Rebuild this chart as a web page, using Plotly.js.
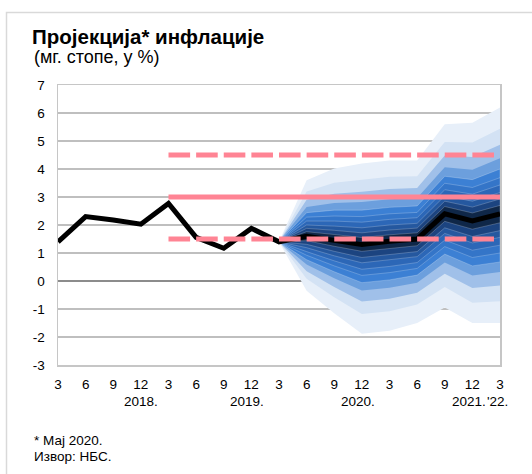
<!DOCTYPE html>
<html>
<head>
<meta charset="utf-8">
<script src="https://cdn.plot.ly/plotly-3.0.1.min.js"></script>
<style>
html,body{margin:0;padding:0;background:#fff;}
#chart{width:532px;height:474px;}
</style>
</head>
<body>
<div id="chart"></div>
<script>
// ---- data ----
var monthLabels = ['3','6','9','12','3','6','9','12','3','6','9','12','3','6','9','12','3'];
var yearLabels = ['2018.','2019.','2020.','2021.',"'22."];
var yearPos = [3.0, 6.85, 10.85, 15.57, 15.45];
var yTickVals = [-3,-2,-1,0,1,2,3,4,5,6,7];
var yTickText = ['-3','-2','-1','0','1','2','3','4','5','6','7'];

// inflation, y-o-y %, quarterly, 3/2018 .. 3/2022 (history + central projection)
var inflation = [1.4, 2.3, 2.18, 2.03, 2.77, 1.56, 1.17, 1.88, 1.4, 1.6, 1.45, 1.3, 1.42, 1.5, 2.4, 2.15, 2.4];

// fan chart, from 3/2020 (index 8) to 3/2022 (index 16); outer -> inner bounds
var fanX = [8, 9, 10, 11, 12, 13, 14, 15, 16];
var hi1  = [1.4, 3.6, 4.02, 4.2, 4.3, 4.3, 5.6, 5.65, 6.2];
var hi2  = [1.4, 3.2, 3.51, 3.62, 3.72, 3.74, 4.96, 4.95, 5.44];
var hi3  = [1.4, 2.9, 3.12, 3.19, 3.29, 3.32, 4.48, 4.43, 4.87];
var hi4  = [1.4, 2.64, 2.79, 2.82, 2.92, 2.96, 4.06, 3.97, 4.38];
var hi5  = [1.4, 2.44, 2.53, 2.53, 2.63, 2.68, 3.74, 3.62, 4.0];
var hi6  = [1.4, 2.28, 2.32, 2.30, 2.40, 2.45, 3.49, 3.34, 3.69];
var hi7  = [1.4, 2.14, 2.14, 2.10, 2.20, 2.26, 3.26, 3.10, 3.43];
var hi8  = [1.4, 2.0, 1.96, 1.90, 2.00, 2.06, 3.04, 2.85, 3.16];
var hi9  = [1.4, 1.88, 1.81, 1.72, 1.82, 1.89, 2.85, 2.64, 2.93];
var hi10 = [1.4, 1.76, 1.66, 1.55, 1.65, 1.72, 2.66, 2.43, 2.70];
var lo10 = [1.4, 1.44, 1.24, 1.06, 1.16, 1.26, 2.13, 1.85, 2.08];
var lo9  = [1.4, 1.31, 1.06, 0.84, 0.94, 1.05, 1.90, 1.59, 1.80];
var lo8  = [1.4, 1.19, 0.90, 0.65, 0.75, 0.87, 1.70, 1.36, 1.56];
var lo7  = [1.4, 1.05, 0.72, 0.42, 0.52, 0.66, 1.46, 1.10, 1.28];
var lo6  = [1.4, 0.92, 0.54, 0.20, 0.30, 0.45, 1.23, 0.84, 1.0];
var lo5  = [1.4, 0.76, 0.33, -0.06, 0.04, 0.21, 0.96, 0.54, 0.68];
var lo4  = [1.4, 0.59, 0.10, -0.34, -0.24, -0.06, 0.66, 0.20, 0.32];
var lo3  = [1.4, 0.35, -0.21, -0.73, -0.63, -0.42, 0.26, -0.25, -0.16];
var lo2  = [1.4, 0.08, -0.58, -1.18, -1.08, -0.84, -0.21, -0.78, -0.72];
var lo1  = [1.4, -0.35, -1.15, -1.88, -1.78, -1.5, -0.95, -1.5, -1.5];

// target band (3% ± 1.5 pp) from 3/2019
var targetX = [4, 16];
var target = [3, 3];
var targetHigh = [4.5, 4.5];
var targetLow = [1.5, 1.5];

var bandColors = ['#e7eff9','#d3e2f4','#a0c0e9','#6c9fdd','#3c80d4','#3475c8','#2c67b7','#25589f','#1c4480','#0f2748'];

// ---- traces ----
var his = [hi1,hi2,hi3,hi4,hi5,hi6,hi7,hi8,hi9,hi10];
var los = [lo1,lo2,lo3,lo4,lo5,lo6,lo7,lo8,lo9,lo10];
var traces = [];
var fanXr = fanX.slice().reverse();
for (var k = 0; k < his.length; k++) {
  traces.push({
    type: 'scatter', mode: 'lines',
    x: fanX.concat(fanXr),
    y: his[k].concat(los[k].slice().reverse()),
    fill: 'toself', fillcolor: bandColors[k],
    line: {color: k < 4 ? bandColors[k] : 'rgba(255,255,255,0.28)', width: k < 4 ? 0 : 0.8},
    hoverinfo: 'skip', showlegend: false
  });
}
var xs = monthLabels.map(function(_, i){ return i; });
traces.push({type:'scatter', mode:'lines', x: xs, y: inflation,
  line:{color:'#000000', width:5}, hoverinfo:'skip', showlegend:false});
var red = '#ff8494';
traces.push({type:'scatter', mode:'lines', x: targetX, y: target,
  line:{color:red, width:5}, hoverinfo:'skip', showlegend:false});
traces.push({type:'scatter', mode:'lines', x: targetX, y: targetHigh,
  line:{color:red, width:5, dash:'21.6px,6.025px'}, hoverinfo:'skip', showlegend:false});
traces.push({type:'scatter', mode:'lines', x: targetX, y: targetLow,
  line:{color:red, width:5, dash:'21.6px,6.025px'}, hoverinfo:'skip', showlegend:false});

var font = 'Liberation Sans, Arial, sans-serif';
var annotations = [
  {text:'(мг. стопе, у %)', xref:'paper', yref:'paper', x:(32-58)/442, y:(365-57)/280,
   xanchor:'left', yanchor:'middle', showarrow:false, font:{family:font, size:18, color:'#000'}},
  {text:'* Мај 2020.', xref:'paper', yref:'paper', x:(32-58)/442, y:(365-440)/280,
   xanchor:'left', yanchor:'middle', showarrow:false, font:{family:font, size:13.5, color:'#000'}},
  {text:'Извор: НБС.', xref:'paper', yref:'paper', x:(32-58)/442, y:(365-456)/280,
   xanchor:'left', yanchor:'middle', showarrow:false, font:{family:font, size:13.5, color:'#000'}}
];
for (var j = 0; j < yearLabels.length; j++) {
  annotations.push({text: yearLabels[j], xref:'x', yref:'paper', x: yearPos[j], y:(365-401)/280,
    xanchor: j === 3 ? 'right' : (j === 4 ? 'left' : 'center'), yanchor:'middle', showarrow:false,
    font:{family:font, size:13.5, color:'#000'}});
}

var layout = {
  width: 532, height: 474,
  margin: {l:58, r:32, t:85, b:109, pad:0},
  paper_bgcolor:'#fff', plot_bgcolor:'#fff',
  font: {family: font, color:'#000'},
  title: {text:'<b>Пројекција* инфлације</b>', xref:'container', yref:'container',
    x: 32/532, y: 1-37/474, xanchor:'left', yanchor:'middle',
    font:{family:font, size:20.5, color:'#000'}},
  xaxis: {range:[0,16], tickmode:'array', tickvals: xs, ticktext: monthLabels,
    showgrid:false, zeroline:false, showline:true, mirror:true, linecolor:'#c6c6c6', linewidth:1.5,
    ticks:'', ticklabelstandoff: 6, tickfont:{family:font, size:13.5, color:'#000'}, fixedrange:true},
  yaxis: {range:[-3,7], tickmode:'array', tickvals: yTickVals, ticktext: yTickText,
    showgrid:true, gridcolor:'#bfbfbf', gridwidth:1.3,
    zeroline:true, zerolinecolor:'#8c8c8c', zerolinewidth:1.5,
    showline:true, mirror:true, linecolor:'#c6c6c6', linewidth:1.5,
    ticks:'', ticklabelstandoff: 9, tickfont:{family:font, size:13.5, color:'#000'}, fixedrange:true},
  shapes: [
    {type:'rect', xref:'paper', yref:'paper', x0:(6.5-58)/442, x1:(545-58)/442,
     y0:(365-490)/280, y1:(365-12.5)/280, line:{color:'#d9d9d9', width:1.5}, fillcolor:'rgba(0,0,0,0)', layer:'below'}
  ],
  annotations: annotations,
  showlegend:false
};

Plotly.newPlot('chart', traces, layout, {staticPlot:true, displayModeBar:false});
</script>
</body>
</html>
